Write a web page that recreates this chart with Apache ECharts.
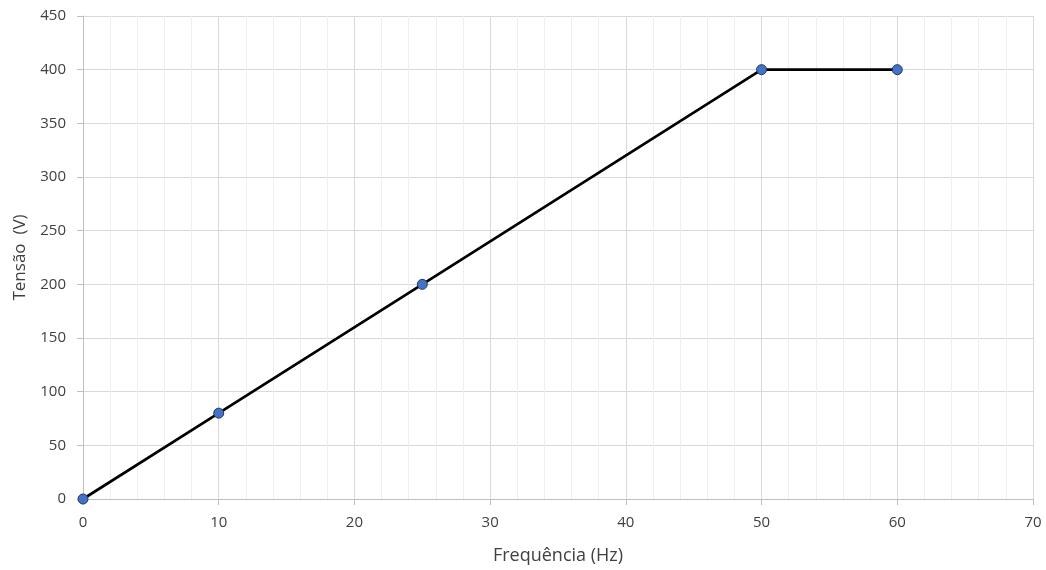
<!DOCTYPE html>
<html><head><meta charset="utf-8">
<script src="https://cdn.jsdelivr.net/npm/echarts@6/dist/echarts.min.js"></script>
<style>html,body{margin:0;padding:0;background:#fff}#c{width:1046px;height:570px}</style>
</head><body><div id="c"></div>
<script>
const freq = [0, 10, 25, 50, 60];
const volts = [0, 80, 200, 400, 400];
const xName = 'Frequência (Hz)';
const yName = 'Tensão  (V)';
const chart = echarts.init(document.getElementById('c'));
const font = '"Open Sans", "DejaVu Sans", sans-serif';
chart.setOption({
  animation: false,
  grid: {left: 83, right: 13, top: 16, bottom: 71},
  xAxis: {
    type: 'value', min: 0, max: 70, interval: 10,
    name: xName, nameLocation: 'middle', nameGap: 48,
    nameTextStyle: {color: '#404040', fontSize: 18, fontFamily: font},
    axisLine: {show: true, lineStyle: {color: '#bfbfbf', width: 1}},
    axisTick: {show: true, length: 6, lineStyle: {color: '#bfbfbf'}},
    axisLabel: {color: '#404040', fontSize: 15, fontFamily: font, margin: 16},
    splitLine: {show: true, lineStyle: {color: '#d9d9d9', width: 1}},
    minorTick: {show: false, splitNumber: 5},
    minorSplitLine: {show: true, lineStyle: {color: '#eeeeee', width: 1}}
  },
  yAxis: {
    type: 'value', min: 0, max: 450, interval: 50,
    name: yName, nameLocation: 'middle', nameGap: 54,
    nameTextStyle: {color: '#404040', fontSize: 17, fontFamily: font},
    axisLine: {show: true, lineStyle: {color: '#bfbfbf', width: 1}},
    axisTick: {show: true, length: 6, lineStyle: {color: '#bfbfbf'}},
    axisLabel: {color: '#404040', fontSize: 15, fontFamily: font, margin: 17},
    splitLine: {show: true, lineStyle: {color: '#d9d9d9', width: 1}}
  },
  series: [{
    type: 'line',
    data: freq.map((f, i) => [f, volts[i]]),
    symbol: 'circle', symbolSize: 10,
    lineStyle: {color: '#000000', width: 2.7},
    itemStyle: {color: '#4472c4', borderColor: '#1f3864', borderWidth: 1}
  }]
});
</script></body></html>
